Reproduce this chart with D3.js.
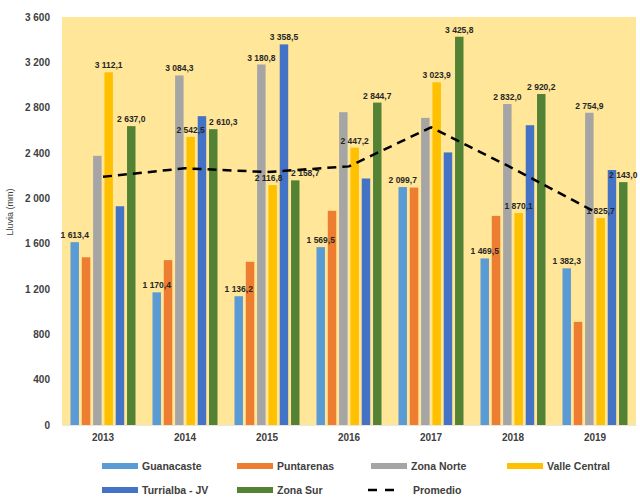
<!DOCTYPE html>
<html>
<head>
<meta charset="utf-8">
<script src="https://cdn.jsdelivr.net/npm/d3@7"></script>
<style>
  html, body { margin: 0; padding: 0; background: #ffffff; }
  svg { display: block; font-family: "Liberation Sans", Arial, sans-serif; }
</style>
</head>
<body>
<svg id="chart" width="640" height="499"></svg>
<script>
// Annual rainfall (mm) by region, 2013–2019
const years = ["2013", "2014", "2015", "2016", "2017", "2018", "2019"];
const regions = ["Guanacaste", "Puntarenas", "Zona Norte", "Valle Central", "Turrialba - JV", "Zona Sur"];
const guanacaste   = [1613.4, 1170.4, 1136.2, 1569.5, 2099.7, 1469.5, 1382.3];
const puntarenas   = [1480, 1455, 1440, 1890, 2095, 1845, 910];
const zonaNorte    = [2375, 3084.3, 3180.8, 2760, 2710, 2832.0, 2754.9];
const valleCentral = [3112.1, 2542.5, 2116.8, 2447.2, 3023.9, 1870.1, 1825.7];
const turrialba    = [1930, 2725, 3358.5, 2175, 2405, 2645, 2250];
const zonaSur      = [2637.0, 2610.3, 2158.7, 2844.7, 3425.8, 2920.2, 2143.0];
const promedio     = [2190, 2265, 2232, 2282, 2627, 2264, 1880];
// which bars carry a value label
const labelled = {
  "Guanacaste": [true, true, true, true, true, true, true],
  "Puntarenas": [false, false, false, false, false, false, false],
  "Zona Norte": [false, true, true, false, false, true, true],
  "Valle Central": [true, true, true, true, true, true, true],
  "Turrialba - JV": [false, false, true, false, false, false, false],
  "Zona Sur": [true, true, true, true, true, true, true]
};
const yTicks = [0, 400, 800, 1200, 1600, 2000, 2400, 2800, 3200, 3600];
const colors = ["#5B9BD5", "#ED7D31", "#A5A5A5", "#FFC000", "#4472C4", "#548235"];

const seriesValues = [guanacaste, puntarenas, zonaNorte, valleCentral, turrialba, zonaSur];

// horizontal nudges for value labels that would otherwise collide
const labelNudge = {
  "Zona Sur|2014": 10,
  "Zona Sur|2015": 10,
  "Valle Central|2015": -4
};

const svg = d3.select("#chart");
const margin = { left: 62, right: 4, top: 17, bottom: 74 };
const W = 640, H = 499;
const plotW = W - margin.left - margin.right;
const plotBottom = 425;

const x0 = d3.scaleBand().domain(years).range([margin.left, margin.left + 574])
  .paddingInner(0.207).paddingOuter(0.1035);
const x1 = d3.scaleBand().domain(regions).range([0, x0.bandwidth()]).paddingInner(0.25).paddingOuter(0);
const y = d3.scaleLinear().domain([0, 3600]).range([plotBottom, margin.top]);
const color = d3.scaleOrdinal().domain(regions).range(colors);

// number format with space as thousands separator and comma decimal
const loc = d3.formatLocale({ decimal: ",", thousands: "\u2009", grouping: [3], currency: ["", ""] });
const fmtTick = v => loc.format(",")(v).replace("\u2009", " ");
const fmtVal = v => loc.format(",.1f")(v).replace("\u2009", " ");

// plot background
svg.append("rect")
  .attr("x", margin.left).attr("y", margin.top)
  .attr("width", plotW).attr("height", plotBottom - margin.top)
  .attr("fill", "#FFE699");

// y axis
const yAxis = d3.axisLeft(y).tickValues(yTicks).tickFormat(fmtTick).tickSize(0).tickPadding(12);
const gy = svg.append("g").attr("transform", `translate(${margin.left},0)`).call(yAxis);
gy.select(".domain").remove();
gy.selectAll("text").attr("font-size", 10).attr("font-weight", "bold").attr("fill", "#404040");

// x axis
const xAxis = d3.axisBottom(x0).tickSize(0).tickPadding(9);
const gx = svg.append("g").attr("transform", `translate(0,${plotBottom})`).call(xAxis);
gx.select(".domain").attr("stroke", "#e6e6e6");
gx.selectAll("text").attr("font-size", 10).attr("font-weight", "bold").attr("fill", "#404040");

// y axis title
svg.append("text")
  .attr("transform", `translate(13,212) rotate(-90)`)
  .attr("text-anchor", "middle")
  .attr("font-size", 9).attr("fill", "#404040")
  .text("Lluvia (mm)");

// bars
const groups = svg.append("g").selectAll("g")
  .data(years)
  .join("g")
  .attr("transform", d => `translate(${x0(d)},0)`);

const barData = (yr, i) => regions.map((r, k) => ({ region: r, year: yr, value: seriesValues[k][i], lab: labelled[r][i] }));

groups.selectAll("rect")
  .data((yr, i) => barData(yr, i))
  .join("rect")
  .attr("x", d => x1(d.region))
  .attr("y", d => y(d.value))
  .attr("width", x1.bandwidth())
  .attr("height", d => plotBottom - y(d.value))
  .attr("fill", d => color(d.region));

// average line
const line = d3.line()
  .x((d, i) => x0(years[i]) + x0.bandwidth() / 2)
  .y(d => y(d));
svg.append("path")
  .datum(promedio)
  .attr("d", line)
  .attr("fill", "none")
  .attr("stroke", "#000")
  .attr("stroke-width", 2.5)
  .attr("stroke-dasharray", "9,6");

// value labels
groups.selectAll("text.val")
  .data((yr, i) => barData(yr, i).filter(d => d.lab))
  .join("text")
  .attr("class", "val")
  .attr("x", d => x1(d.region) + x1.bandwidth() / 2 + (labelNudge[d.region + "|" + d.year] || 0))
  .attr("y", d => y(d.value) - 4)
  .attr("text-anchor", "middle")
  .attr("font-size", 8.5)
  .attr("font-weight", "bold")
  .attr("fill", "#262626")
  .text(d => fmtVal(d.value));

// legend
const legendItems = [
  { name: "Guanacaste", kind: "bar", x: 102, y: 466 },
  { name: "Puntarenas", kind: "bar", x: 237, y: 466 },
  { name: "Zona Norte", kind: "bar", x: 371, y: 466 },
  { name: "Valle Central", kind: "bar", x: 507, y: 466 },
  { name: "Turrialba - JV", kind: "bar", x: 102, y: 490 },
  { name: "Zona Sur", kind: "bar", x: 237, y: 490 },
  { name: "Promedio", kind: "line", x: 368, y: 490 }
];
const lg = svg.append("g").selectAll("g").data(legendItems).join("g")
  .attr("transform", d => `translate(${d.x},${d.y})`);
lg.filter(d => d.kind === "bar").append("rect")
  .attr("x", 0).attr("y", -3).attr("width", 36).attr("height", 6)
  .attr("fill", d => color(d.name));
lg.filter(d => d.kind === "line").append("line")
  .attr("x1", 0).attr("x2", 26).attr("y1", 0).attr("y2", 0)
  .attr("stroke", "#000").attr("stroke-width", 2.5).attr("stroke-dasharray", "9,8");
lg.append("text")
  .attr("x", d => d.kind === "bar" ? 40 : 45)
  .attr("y", 0)
  .attr("dy", "0.35em")
  .attr("font-size", 10.5)
  .attr("font-weight", "bold")
  .attr("fill", "#404040")
  .text(d => d.name);
</script>
</body>
</html>
